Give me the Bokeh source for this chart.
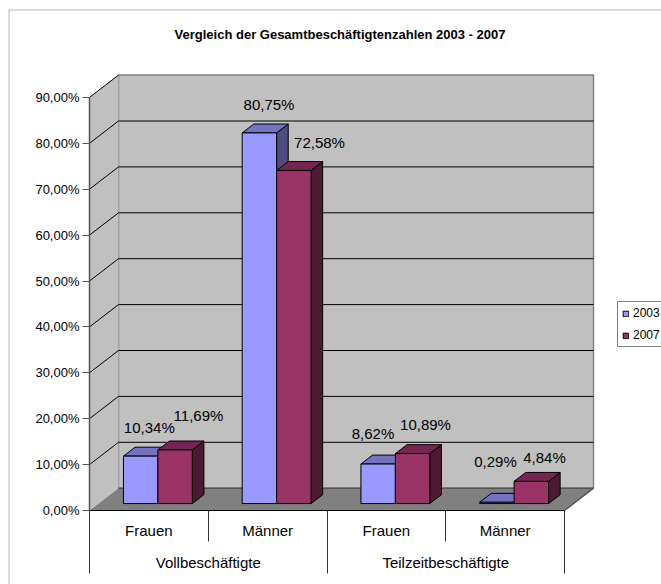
from bokeh.embed import file_html
from bokeh.resources import INLINE
from bokeh.plotting import figure
from bokeh.models import Range1d, FixedTicker, Label, BoxAnnotation, Legend, LegendItem
import numpy as np

# ---- data ----
groups = ["Vollbeschäftigte", "Teilzeitbeschäftigte"]
categories = ["Frauen", "Männer", "Frauen", "Männer"]
series_names = ["2003", "2007"]
values_2003 = [10.34, 80.75, 8.62, 0.29]
values_2007 = [11.69, 72.58, 10.89, 4.84]
y_ticks = [0, 10, 20, 30, 40, 50, 60, 70, 80, 90]
title = "Vergleich der Gesamtbeschäftigtenzahlen 2003 - 2007"

# ---- layout (page pixels) ----
W, H = 661, 584
PX_LEFT, PX_BOTTOM = 89, 510       # front-left corner of the 3D box
PX_PER_CAT = 118.75
PX_PER_PCT = 4.59
DEPTH_X = 29 / PX_PER_CAT
DEPTH_Y = 22.3 / PX_PER_PCT
BAR_W = 0.29
BAR_FRONT = 0.31
BAR_DEPTH = 0.40

def X(px): return (px - PX_LEFT) / PX_PER_CAT
def Y(py): return (PX_BOTTOM - py) / PX_PER_PCT

p = figure(width=W, height=H, output_backend="svg", toolbar_location=None, title=None,
           x_range=Range1d(X(0), X(W)), y_range=Range1d(Y(H), Y(0)),
           frame_width=W, frame_height=H,
           min_border_left=0, min_border_right=0, min_border_top=0, min_border_bottom=0)
p.outline_line_color = None
p.background_fill_color = "white"
p.grid.visible = False

FONT = "Liberation Sans"

def text(x, y, s, size="15px", style="normal"):
    p.add_layout(Label(x=x, y=y, text=s, text_font=FONT, text_font_size=size,
                       text_font_style=style, text_color="black",
                       text_align="center", text_baseline="middle"))

# chart-area border
p.add_layout(BoxAnnotation(left=X(8.5), right=X(W + 50), top=Y(9.5), bottom=Y(H + 50),
                           fill_color=None, line_color="black", line_width=1))

# title
text(X(339.5), Y(33.5), title, size="13px", style="bold")

# y axis
ya = p.yaxis[0]
ya.fixed_location = 0
ya.ticker = FixedTicker(ticks=y_ticks)
ya.major_label_overrides = {v: f"{v:.2f}".replace(".", ",") + "%" for v in y_ticks}
ya.bounds = (min(y_ticks), max(y_ticks))
ya.axis_line_color = "#555555"
ya.axis_line_width = 1.5
ya.major_tick_line_color = "#555555"
ya.major_tick_out = 7
ya.major_tick_in = 0
ya.major_label_standoff = 3
ya.major_label_text_font = FONT
ya.major_label_text_font_size = "13px"
ya.major_label_text_color = "black"

# x axis: tick marks split categories and groups
n = len(categories)
xa = p.xaxis[0]
xa.fixed_location = 0
xa.ticker = FixedTicker(ticks=[0, n // 2, n], minor_ticks=[1, 3])
xa.major_label_overrides = {0: "", 2: "", 4: ""}
xa.major_label_standoff = 0
xa.major_label_text_font_size = "1px"
xa.bounds = (0, n)
xa.axis_line_color = "black"
xa.major_tick_line_color = "#333333"
xa.minor_tick_line_color = "#333333"
xa.major_tick_out = 63
xa.major_tick_in = 0
xa.minor_tick_out = 31
xa.minor_tick_in = 0

# walls
top_val = max(y_ticks)
wall = "#C0C0C0"
p.quad(left=[DEPTH_X], right=[n + DEPTH_X], bottom=[DEPTH_Y], top=[top_val + DEPTH_Y],
       fill_color=wall, line_color="#808080", line_width=1.5)
p.patch([0, DEPTH_X, DEPTH_X, 0], [0, DEPTH_Y, top_val + DEPTH_Y, top_val],
        fill_color=wall, line_color=None)
p.patch([0, n, n + DEPTH_X, DEPTH_X], [0, 0, DEPTH_Y, DEPTH_Y],
        fill_color="#808080", line_color=None)
# grid on the walls
gv = np.array(y_ticks[1:], dtype=float)
p.segment(x0=np.zeros_like(gv), y0=gv, x1=np.full_like(gv, DEPTH_X), y1=gv + DEPTH_Y,
          line_color="black", line_width=1)
gv_back = gv[:-1]
p.segment(x0=np.full_like(gv_back, DEPTH_X), y0=gv_back + DEPTH_Y,
          x1=np.full_like(gv_back, n + DEPTH_X), y1=gv_back + DEPTH_Y,
          line_color="black", line_width=1)
p.segment(x0=[n, DEPTH_X], y0=[0, DEPTH_Y], x1=[n + DEPTH_X, n + DEPTH_X], y1=[DEPTH_Y, DEPTH_Y],
          line_color="#555555", line_width=1.5)

# bars
def draw_series(values, offset, front, top_c, side_c):
    v = np.array(values)
    cx = np.arange(n) + 0.5 + BAR_FRONT * DEPTH_X + offset * BAR_W
    x0, x1 = cx - BAR_W / 2, cx + BAR_W / 2
    y0 = np.full(n, BAR_FRONT * DEPTH_Y)
    y1 = y0 + v
    ddx, ddy = BAR_DEPTH * DEPTH_X, BAR_DEPTH * DEPTH_Y
    p.patches([[a, a + ddx, a + ddx, a] for a in x1],
              [[b, b + ddy, t + ddy, t] for b, t in zip(y0, y1)],
              fill_color=side_c, line_color="black", line_width=1)
    p.patches([[a, b, b + ddx, a + ddx] for a, b in zip(x0, x1)],
              [[t, t, t + ddy, t + ddy] for t in y1],
              fill_color=top_c, line_color="black", line_width=1)
    return p.quad(left=x0, right=x1, bottom=y0, top=y1,
                  fill_color=front, line_color="black", line_width=1)

r03 = draw_series(values_2003, -0.5, "#9999FF", "#7373BF", "#4D4D80")
r07 = draw_series(values_2007, 0.5, "#993366", "#732650", "#4D1A33")

# data labels (hand-placed in the reference)
label_px_03 = [(148.8, 427), (268.5, 104), (372.5, 433), (495, 461)]
label_px_07 = [(198, 415), (319, 141.7), (425, 424), (544, 457)]
for vals, pos in ((values_2003, label_px_03), (values_2007, label_px_07)):
    for v, (px, py) in zip(vals, pos):
        text(X(px), Y(py), f"{v:.2f}".replace(".", ",") + "%")

# category and group labels
CAT_PY, GRP_PY = 529.5, 561.5
for i, c in enumerate(categories):
    text(i + 0.5, Y(CAT_PY), c)
for i, g in enumerate(groups):
    text(2 * i + 1, Y(GRP_PY), g)

# legend
legend = Legend(items=[LegendItem(label=series_names[0], renderers=[r03]),
                       LegendItem(label=series_names[1], renderers=[r07])],
                location=(617, H - 347),
                orientation="vertical", glyph_width=7, glyph_height=7,
                label_text_font=FONT, label_text_font_size="12px", label_text_color="black",
                label_standoff=4, padding=4, margin=0, spacing=8,
                border_line_color="black", border_line_width=1,
                background_fill_color="white", background_fill_alpha=1)
p.add_layout(legend)

open("out.html", "w").write(file_html(p, INLINE))
